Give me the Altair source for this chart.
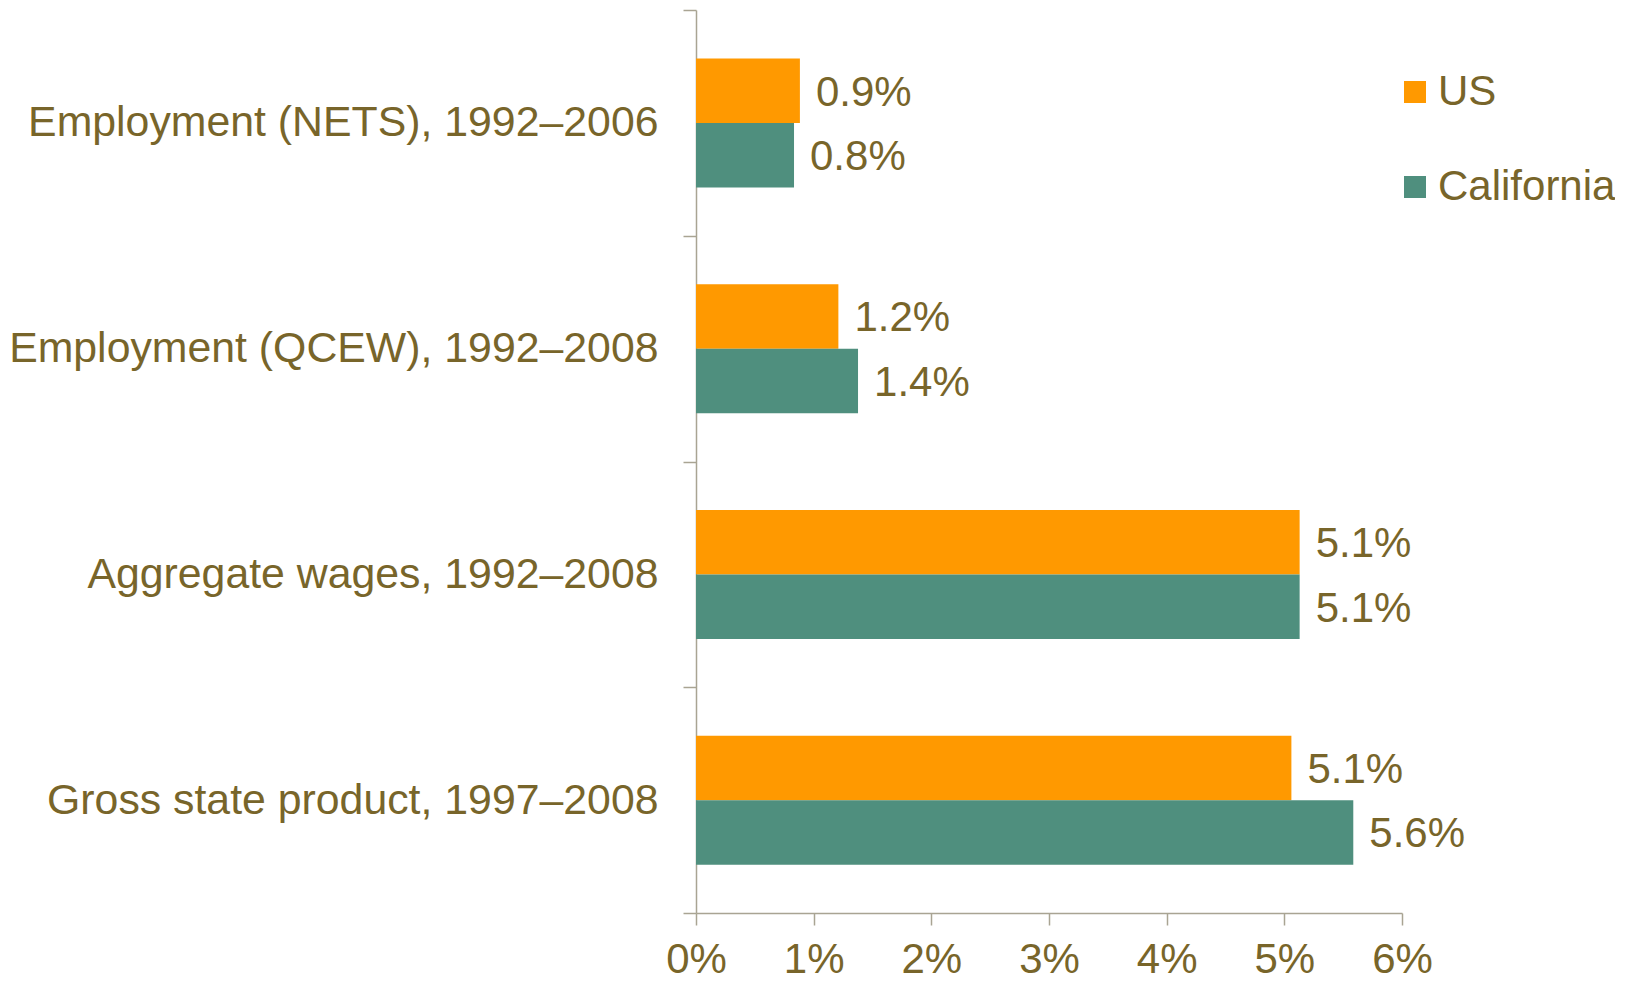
import altair as alt
import pandas as pd

categories = [
    "Employment (NETS), 1992–2006",
    "Employment (QCEW), 1992–2008",
    "Aggregate wages, 1992–2008",
    "Gross state product, 1997–2008",
]
series = ["US", "California"]
us_values = [0.883, 1.21, 5.13, 5.06]
ca_values = [0.833, 1.377, 5.13, 5.586]
us_labels = ["0.9%", "1.2%", "5.1%", "5.1%"]
ca_labels = ["0.8%", "1.4%", "5.1%", "5.6%"]
x_ticks = [0, 1, 2, 3, 4, 5, 6]

rows = []
for c, v, l in zip(categories, us_values, us_labels):
    rows.append({"category": c, "series": "US", "value": v, "label": l})
for c, v, l in zip(categories, ca_values, ca_labels):
    rows.append({"category": c, "series": "California", "value": v, "label": l})
df = pd.DataFrame(rows)

TEXT = "#78652A"
AXIS = "#A9A493"
FONT = "Liberation Sans"

y_enc = alt.Y(
    "category:N",
    sort=categories,
    scale=alt.Scale(paddingInner=0, paddingOuter=0),
    axis=alt.Axis(
        title=None,
        tickBand="extent",
        grid=False,
        tickSize=13,
        tickColor=AXIS,
        tickWidth=1.5,
        domainColor=AXIS,
        domainWidth=1.5,
        labelFontSize=42.8,
        labelColor=TEXT,
        labelFont=FONT,
        labelPadding=25,
        labelLimit=0,
    ),
)
yoff_enc = alt.YOffset(
    "series:N",
    sort=series,
    scale=alt.Scale(paddingInner=0, paddingOuter=0.75),
)
x_enc = alt.X(
    "value:Q",
    scale=alt.Scale(domain=[0, 6], nice=False),
    axis=alt.Axis(
        title=None,
        values=x_ticks,
        labelExpr="datum.value + '%'",
        labelFlush=False,
        labelOverlap=False,
        tickSize=12,
        tickColor=AXIS,
        tickWidth=1.5,
        domainColor=AXIS,
        domainWidth=1.5,
        grid=False,
        labelFontSize=42,
        labelColor=TEXT,
        labelFont=FONT,
        labelPadding=14,
    ),
)

bars = alt.Chart(df).mark_bar(size=64.5).encode(
    y=y_enc,
    yOffset=yoff_enc,
    x=x_enc,
    color=alt.Color(
        "series:N",
        sort=series,
        scale=alt.Scale(domain=series, range=["#FF9900", "#4F8F7E"]),
        legend=alt.Legend(
            title=None,
            orient="none",
            legendX=698,
            legendY=61,
            symbolType="square",
            symbolSize=484,
            symbolStrokeWidth=0,
            symbolOpacity=1,
            labelFontSize=42,
            labelColor=TEXT,
            labelFont=FONT,
            labelOffset=2,
            labelLimit=0,
            rowPadding=53,
            padding=0,
        ),
    ),
)

labels = alt.Chart(df).mark_text(
    align="left", baseline="middle", dx=16, dy=2, fontSize=42, color=TEXT, font=FONT
).encode(
    y=alt.Y("category:N", sort=categories),
    yOffset=alt.YOffset("series:N", sort=series),
    x=alt.X("value:Q"),
    text="label:N",
)

chart = (
    alt.layer(bars, labels)
    .properties(
        width=706,
        height=903,
        view=alt.ViewBackground(stroke=None, strokeWidth=0),
        autosize=alt.AutoSizeParams(type="none"),
        padding={"left": 688, "top": 2, "right": 213, "bottom": 68},
    )
    .configure_view(stroke=None, strokeWidth=0, strokeOpacity=0)
    .configure(font=FONT)
)

chart.save("out.html", embed_options={"renderer": "svg", "actions": False})
